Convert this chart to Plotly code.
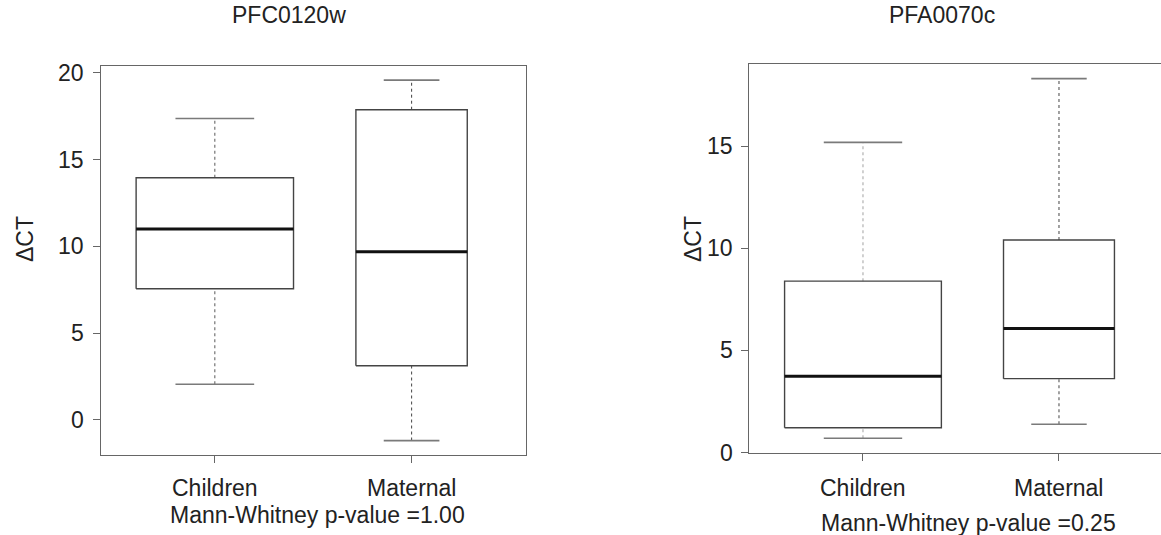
import plotly.graph_objects as go

# ---------------- data ----------------
categories = ["Children", "Maternal"]
positions = [1, 2]

left_title = "PFC0120w"
left_lower = [2.06, -1.19]
left_q1 = [7.56, 3.12]
left_median = [11.0, 9.69]
left_q3 = [13.95, 17.87]
left_upper = [17.37, 19.58]
left_pvalue = "Mann-Whitney p-value =1.00"

right_title = "PFA0070c"
right_lower = [0.70, 1.39]
right_q1 = [1.22, 3.62]
right_median = [3.74, 6.07]
right_q3 = [8.39, 10.40]
right_upper = [15.18, 18.30]
right_pvalue = "Mann-Whitney p-value =0.25"

y_ticks_left = [0, 5, 10, 15, 20]
y_ticks_right = [0, 5, 10, 15]
y_label = "ΔCT"

# ---------------- style ----------------
W, H = 1161, 535
box_widths = [0.8, 0.566]          # varwidth boxes
FONT = "Liberation Sans, Arial, Helvetica, sans-serif"
FS = 23
TXT = "#222222"
FRAME = "#666666"
BOX_COL = "#444444"
CAP_COL = "#7a7a7a"
MED_COL = "#111111"

fig = go.Figure()


def add_panel(xa, ya, lower, q1, med, q3, upper, whisk_cols):
    for i, x in enumerate(positions):
        hw = box_widths[i] / 2
        cw = hw / 2
        # whiskers (dashed)
        for a, b in ((lower[i], q1[i]), (q3[i], upper[i])):
            fig.add_trace(go.Scatter(x=[x, x], y=[a, b], mode="lines",
                                     line=dict(color=whisk_cols[i], width=1.1, dash="3px,3px"),
                                     xaxis=xa, yaxis=ya, hoverinfo="skip", showlegend=False))
        # caps
        for v in (lower[i], upper[i]):
            fig.add_trace(go.Scatter(x=[x - cw, x + cw], y=[v, v], mode="lines",
                                     line=dict(color=CAP_COL, width=1.6),
                                     xaxis=xa, yaxis=ya, hoverinfo="skip", showlegend=False))
        # box
        fig.add_trace(go.Scatter(x=[x - hw, x + hw, x + hw, x - hw, x - hw],
                                 y=[q1[i], q1[i], q3[i], q3[i], q1[i]], mode="lines",
                                 line=dict(color=BOX_COL, width=1.4),
                                 xaxis=xa, yaxis=ya, hoverinfo="skip", showlegend=False))
        # median
        fig.add_trace(go.Scatter(x=[x - hw, x + hw], y=[med[i], med[i]], mode="lines",
                                 line=dict(color=MED_COL, width=3),
                                 xaxis=xa, yaxis=ya, hoverinfo="skip", showlegend=False))


add_panel("x", "y", left_lower, left_q1, left_median, left_q3, left_upper, ["#666666", "#555555"])
add_panel("x2", "y2", right_lower, right_q1, right_median, right_q3, right_upper, ["#aaaaaa", "#555555"])


def px(x):
    return x / W


def py(y):
    return 1 - y / H


axis_lines = dict(showgrid=False, zeroline=False, linecolor=FRAME, linewidth=1.3,
                  ticks="outside", ticklen=7, tickcolor=FRAME, tickwidth=1.2)

fig.update_layout(
    width=W, height=H,
    margin=dict(l=0, r=0, t=0, b=0),
    paper_bgcolor="white", plot_bgcolor="white",
    showlegend=False,
    xaxis=dict(domain=[px(100.7), px(525.7)], range=[0.42, 2.58], showline=True, mirror=True,
               tickvals=positions, showticklabels=False, anchor="y", **axis_lines),
    yaxis=dict(domain=[py(455), py(65.7)], range=[-2.02, 20.41], showline=True, mirror=True,
               tickvals=y_ticks_left, showticklabels=False, anchor="x", **axis_lines),
    xaxis2=dict(domain=[px(749.3), 1.0], range=[0.42, 0.42 + (W - 749.3) / 196.0], showline=True, mirror=True,
                tickvals=positions, showticklabels=False, anchor="y2", **axis_lines),
    yaxis2=dict(domain=[py(452.7), py(63.7)], range=[-0.004, 19.03], showline=True, mirror=False,
                tickvals=y_ticks_right, showticklabels=False, anchor="x2", **axis_lines),
)

font = dict(family=FONT, size=FS, color=TXT)
ann = []
# y tick labels
for t in y_ticks_left:
    ann.append(dict(text=str(t), x=px(86), y=t, xref="paper", yref="y", showarrow=False,
                    font=font, xanchor="right", yanchor="middle"))
for t in y_ticks_right:
    ann.append(dict(text=str(t), x=px(735), y=t, xref="paper", yref="y2", showarrow=False,
                    font=font, xanchor="right", yanchor="middle"))
# titles
ann.append(dict(text=left_title, x=px(289), y=py(15), xref="paper", yref="paper",
                showarrow=False, font=font, xanchor="center", yanchor="middle"))
ann.append(dict(text=right_title, x=px(942), y=py(15), xref="paper", yref="paper",
                showarrow=False, font=font, xanchor="center", yanchor="middle"))
# y titles
ann.append(dict(text=y_label, x=px(25), y=py(239), xref="paper", yref="paper", textangle=-90,
                showarrow=False, font=font, xanchor="center", yanchor="middle"))
ann.append(dict(text=y_label, x=px(693), y=py(239), xref="paper", yref="paper", textangle=-90,
                showarrow=False, font=font, xanchor="center", yanchor="middle"))
# category labels
for xa in ("x", "x2"):
    for p, c in zip(positions, categories):
        ann.append(dict(text=c, x=p, y=py(488), xref=xa, yref="paper", showarrow=False,
                        font=font, xanchor="center", yanchor="middle"))
# p-values
ann.append(dict(text=left_pvalue, x=px(317), y=py(515), xref="paper", yref="paper", showarrow=False,
                font=font, xanchor="center", yanchor="middle"))
ann.append(dict(text=right_pvalue, x=px(968), y=py(523), xref="paper", yref="paper", showarrow=False,
                font=font, xanchor="center", yanchor="middle"))
fig.update_layout(annotations=ann)

fig.write_html("out.html")
